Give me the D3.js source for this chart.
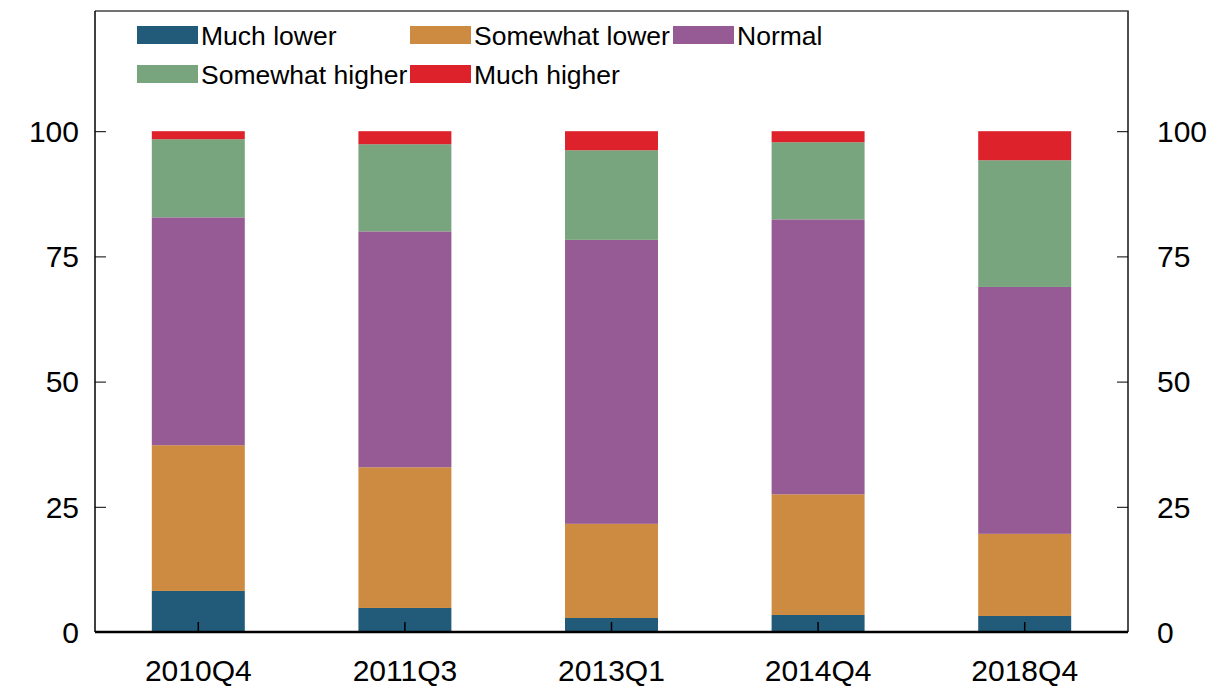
<!DOCTYPE html>
<html>
<head>
<meta charset="utf-8">
<script src="https://cdn.jsdelivr.net/npm/d3@7"></script>
<style>
  html, body { margin: 0; padding: 0; background: #fff; }
  svg { display: block; font-family: "Liberation Sans", Arial, Helvetica, sans-serif; }
</style>
</head>
<body>
<svg id="chart" width="1217" height="690"></svg>
<script>
// ---- data ----
const categories = ["2010Q4", "2011Q3", "2013Q1", "2014Q4", "2018Q4"];
const seriesNames = ["Much lower", "Somewhat lower", "Normal", "Somewhat higher", "Much higher"];
const muchLower      = [8.2, 4.8, 2.8, 3.4, 3.2];
const somewhatLower  = [29.1, 28.1, 18.8, 24.1, 16.4];
const normal         = [45.5, 47.1, 56.7, 54.9, 49.3];
const somewhatHigher = [15.6, 17.4, 17.9, 15.4, 25.3];
const muchHigher     = [1.6, 2.6, 3.8, 2.2, 5.8];
const yTicks = [0, 25, 50, 75, 100];
const colors = ["#225B7A", "#CD8A41", "#965B94", "#79A57E", "#DE222C"];

const seriesValues = [muchLower, somewhatLower, normal, somewhatHigher, muchHigher];
const rows = categories.map((c, i) => {
  const r = { cat: c };
  seriesNames.forEach((s, j) => r[s] = seriesValues[j][i]);
  return r;
});

// ---- layout ----
const svg = d3.select("#chart");
const mLeft = 95, mRight = 1128, mTop = 11, mBottom = 632;
const tickFont = 30;

const x = d3.scaleBand().domain(categories).range([mLeft, mRight])
  .paddingInner(0.55).paddingOuter(0.275);
const y = d3.scaleLinear().domain([0, 124]).range([mBottom, mTop]);
const color = d3.scaleOrdinal().domain(seriesNames).range(colors);

const stacked = d3.stack().keys(seriesNames)(rows);

// bars
svg.append("g").selectAll("g").data(stacked).join("g")
  .attr("fill", d => color(d.key))
  .selectAll("rect").data(d => d).join("rect")
  .attr("x", d => x(d.data.cat))
  .attr("width", x.bandwidth())
  .attr("y", d => y(d[1]))
  .attr("height", d => y(d[0]) - y(d[1]));

// frame (top & right)
svg.append("path")
  .attr("d", `M${mLeft},${mTop}H${mRight}V${mBottom}`)
  .attr("fill", "none").attr("stroke", "#444").attr("stroke-width", 1.5);

// left axis
const yl = svg.append("g").attr("transform", `translate(${mLeft},0)`)
  .call(d3.axisRight(y).tickValues(yTicks).tickSize(11).tickFormat(""));
yl.select(".domain").attr("d", `M0,${mTop}V${mBottom}`).attr("stroke", "#000").attr("stroke-width", 1.5);
yl.selectAll(".tick line").attr("stroke", "#000").attr("stroke-width", 1);
svg.append("g").selectAll("text").data(yTicks).join("text")
  .attr("x", 79).attr("y", d => y(d)).attr("dy", "0.36em")
  .attr("text-anchor", "end").attr("font-size", tickFont).attr("fill", "#000")
  .text(d => d);

// right axis
const yr = svg.append("g").attr("transform", `translate(${mRight},0)`)
  .call(d3.axisLeft(y).tickValues(yTicks).tickSize(11).tickFormat(""));
yr.select(".domain").attr("d", `M0,${mTop}V${mBottom}`).attr("stroke", "#444").attr("stroke-width", 1.5);
yr.selectAll(".tick line").attr("stroke", "#000").attr("stroke-width", 1);
svg.append("g").selectAll("text").data(yTicks).join("text")
  .attr("x", 1157).attr("y", d => y(d)).attr("dy", "0.36em")
  .attr("text-anchor", "start").attr("font-size", tickFont).attr("fill", "#000")
  .text(d => d);

// bottom axis
const xa = svg.append("g").attr("transform", `translate(0,${mBottom})`)
  .call(d3.axisTop(x).tickSize(10).tickFormat(""));
xa.select(".domain").attr("d", `M${mLeft},0H${mRight}`).attr("stroke", "#000").attr("stroke-width", 2.5);
xa.selectAll(".tick line").attr("stroke", "#000").attr("stroke-width", 1.5);
svg.append("g").selectAll("text").data(categories).join("text")
  .attr("x", d => x(d) + x.bandwidth() / 2).attr("y", 681)
  .attr("text-anchor", "middle").attr("font-size", tickFont).attr("fill", "#000")
  .text(d => d);

// legend
const legendPos = [
  [137, 26], [410, 26], [673, 26],
  [137, 65], [410, 65]
];
const lg = svg.append("g").selectAll("g").data(seriesNames).join("g")
  .attr("transform", (d, i) => `translate(${legendPos[i][0]},${legendPos[i][1]})`);
lg.append("rect").attr("width", 61).attr("height", 18).attr("fill", d => color(d));
lg.append("text").attr("x", 64).attr("y", 9).attr("dy", "0.36em")
  .attr("font-size", 26.5).attr("fill", "#000").text(d => d);
</script>
</body>
</html>
